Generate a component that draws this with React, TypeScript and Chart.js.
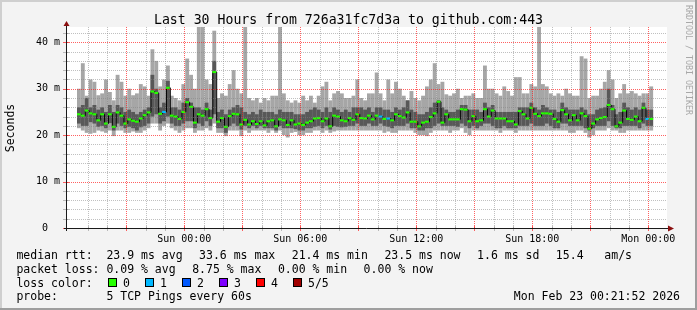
import React, { useEffect, useRef } from 'react';
import { Chart, registerables } from 'chart.js';

Chart.register(...registerables);

const MONO = '"DejaVu Sans Mono", monospace';

// Time axis: hours relative to Sun 00:00; graph covers Sat 18:27 .. Mon 00:27
const X_MIN = -5.55;
const X_MAX = 24.45;
const STEP_HOURS = 0.2; // 12 minute consolidation step
const Y_MAX = 43.3; // ms

const X_GRID_HOURS = [-5, -4, -3, -2, -1, 0, 1, 2, 3, 4, 5, 6, 7, 8, 9, 10, 11, 12, 13, 14, 15, 16, 17, 18, 19, 20, 21, 22, 23, 24];
const X_LABEL_HOURS = [0, 6, 12, 18, 24];
const X_TICK_LABELS = ['Sun 00:00', 'Sun 06:00', 'Sun 12:00', 'Sun 18:00', 'Mon 00:00'];
const Y_GRID_MS = [0, 2, 4, 6, 8, 10, 12, 14, 16, 18, 20, 22, 24, 26, 28, 30, 32, 34, 36, 38, 40, 42];
const Y_LABEL_MS = [0, 10, 20, 30, 40];
const Y_TICK_LABELS = ['0  ', '10 m', '20 m', '30 m', '40 m'];

// per 12-minute column, in milliseconds
const MAX_RTT = [
  30.0, 35.5, 28.5, 32.0, 31.5, 28.6, 29.0, 32.0, 29.3, 27.5, 33.0, 31.5, 28.5, 30.0, 28.6, 29.0, 31.0, 30.5, 28.5, 38.5, 36.0, 30.5, 32.0, 35.0, 28.5,
  28.0, 27.5, 31.0, 36.5, 33.0, 30.0, 43.3, 43.3, 32.0, 31.0, 42.5, 28.0, 29.0, 28.5, 31.0, 34.0, 30.0, 29.0, 43.3, 28.0, 27.5, 28.0, 27.0, 28.0, 27.5,
  28.5, 28.5, 43.3, 29.0, 27.5, 27.0, 27.5, 27.0, 28.5, 27.5, 28.5, 27.0, 28.5, 30.5, 31.5, 27.5, 29.0, 29.5, 29.0, 28.0, 28.0, 28.5, 32.0, 28.0, 27.5,
  29.0, 29.0, 33.5, 29.0, 27.5, 32.0, 29.0, 31.5, 30.0, 28.5, 27.5, 29.5, 28.0, 27.5, 28.5, 30.5, 32.0, 35.5, 31.0, 31.5, 28.8, 28.5, 29.0, 30.0, 28.0,
  28.5, 28.5, 29.0, 28.0, 28.0, 35.0, 30.0, 30.0, 29.0, 28.5, 30.5, 29.5, 28.5, 32.5, 32.5, 29.0, 29.0, 31.0, 30.5, 43.3, 31.0, 30.5, 29.0, 28.5, 29.0,
  28.5, 30.0, 29.0, 28.5, 28.5, 37.0, 36.5, 28.0, 28.5, 28.5, 30.0, 31.5, 34.0, 32.0, 28.0, 29.0, 31.0, 29.0, 29.5, 29.0, 28.5, 29.0, 29.0, 30.5,
];
const Q4_RTT = [
  26.0, 26.5, 28.0, 26.0, 26.5, 25.5, 26.0, 25.0, 26.5, 25.0, 26.5, 26.0, 25.0, 25.5, 25.0, 24.5, 25.0, 25.5, 26.0, 33.0, 30.0, 26.0, 27.0, 31.7, 26.0,
  26.0, 25.5, 27.0, 28.0, 27.0, 26.0, 26.0, 25.5, 27.0, 25.5, 36.0, 25.0, 25.5, 24.5, 25.5, 26.0, 26.5, 26.0, 25.0, 24.5, 25.0, 24.5, 25.5, 25.0, 25.0,
  25.0, 24.5, 25.5, 25.0, 25.0, 25.0, 24.5, 24.5, 24.5, 25.0, 25.5, 26.0, 25.5, 25.0, 26.0, 25.0, 26.0, 25.5, 25.0, 25.5, 25.0, 26.0, 26.0, 26.0, 25.5,
  26.0, 25.0, 26.0, 26.0, 25.5, 25.5, 25.0, 26.0, 25.5, 26.0, 27.5, 25.5, 25.0, 24.5, 24.5, 25.0, 26.0, 27.0, 27.5, 26.0, 25.5, 25.0, 25.0, 25.5, 26.5,
  26.5, 25.5, 25.5, 25.5, 25.0, 27.0, 26.0, 26.5, 25.0, 25.0, 25.0, 25.0, 25.0, 25.0, 26.0, 26.0, 26.0, 27.0, 26.0, 25.5, 26.5, 26.0, 25.5, 25.5, 25.0,
  27.0, 26.0, 25.5, 25.5, 25.5, 26.0, 25.5, 24.5, 24.5, 25.5, 25.8, 26.0, 30.0, 26.5, 24.5, 25.0, 27.0, 26.0, 25.5, 26.0, 25.5, 27.0, 25.5, 25.5,
];
const MEDIAN_RTT = [
  24.5, 24.2, 25.3, 24.7, 24.5, 23.2, 24.5, 22.5, 24.5, 21.8, 24.9, 24.2, 22.5, 23.4, 23.1, 22.9, 23.6, 24.3, 24.9, 29.4, 29.1, 24.6, 25.0, 30.2, 24.2,
  24.0, 23.5, 25.0, 27.1, 26.1, 22.7, 24.5, 24.2, 25.6, 23.7, 33.6, 22.9, 23.7, 21.8, 24.1, 24.6, 24.5, 22.3, 23.3, 22.3, 23.0, 22.4, 23.0, 22.1, 23.0,
  23.2, 21.9, 23.4, 23.2, 22.2, 23.2, 22.3, 22.5, 22.2, 22.7, 23.0, 23.6, 23.7, 23.0, 23.6, 21.9, 24.2, 24.0, 23.2, 23.0, 23.7, 23.3, 24.5, 23.7, 23.6,
  24.2, 23.4, 24.2, 24.0, 23.5, 23.6, 23.2, 24.5, 24.1, 23.8, 24.9, 22.9, 22.9, 21.9, 22.7, 22.9, 23.9, 24.7, 27.2, 22.7, 24.5, 23.4, 23.4, 23.4, 25.6,
  25.5, 23.0, 24.1, 23.0, 23.2, 25.6, 24.0, 25.3, 23.6, 23.6, 23.6, 23.0, 23.0, 22.3, 25.2, 24.5, 23.6, 25.9, 24.6, 24.1, 24.7, 24.7, 24.6, 23.5, 22.9,
  25.4, 24.5, 23.2, 24.3, 23.2, 24.7, 24.1, 21.4, 22.5, 23.4, 23.7, 23.9, 26.5, 25.6, 21.9, 22.7, 25.3, 23.5, 23.3, 24.0, 23.0, 25.9, 23.5, 23.5,
];
const Q2_RTT = [
  22.5, 22.0, 22.0, 22.8, 22.5, 21.8, 22.0, 21.5, 22.6, 21.0, 22.5, 22.0, 21.5, 21.8, 21.5, 21.0, 21.7, 22.0, 22.5, 24.0, 24.5, 22.5, 23.0, 24.0, 22.5,
  22.0, 22.0, 22.5, 23.0, 23.0, 21.5, 22.5, 22.0, 23.0, 22.0, 24.5, 21.5, 21.5, 20.5, 22.0, 22.5, 22.0, 21.2, 22.0, 21.5, 22.0, 21.5, 22.0, 21.5, 21.5,
  21.5, 21.0, 22.0, 21.5, 21.5, 21.5, 21.3, 21.0, 21.0, 21.5, 21.5, 21.8, 22.0, 21.5, 22.0, 21.2, 22.0, 21.8, 21.7, 21.8, 22.0, 22.0, 22.5, 22.0, 22.0,
  22.5, 22.0, 22.0, 22.5, 22.0, 21.8, 21.5, 22.0, 22.0, 22.0, 22.5, 21.5, 21.5, 21.0, 21.0, 21.5, 21.5, 22.0, 22.5, 22.0, 22.0, 22.0, 22.0, 21.8, 22.5,
  22.0, 21.5, 22.0, 21.5, 22.0, 22.5, 22.5, 22.0, 21.5, 21.5, 22.0, 21.5, 21.5, 21.5, 22.0, 22.0, 22.0, 22.5, 22.0, 22.0, 22.0, 22.5, 22.0, 21.5, 21.5,
  22.5, 22.5, 22.0, 22.0, 22.0, 22.0, 21.5, 21.0, 21.5, 22.0, 22.0, 22.0, 23.0, 22.0, 21.5, 21.5, 22.0, 22.0, 22.0, 22.0, 21.5, 22.5, 22.0, 22.0,
];
const MIN_RTT = [
  21.5, 21.0, 20.5, 20.3, 20.5, 21.0, 20.8, 20.5, 21.0, 19.8, 21.0, 21.0, 20.5, 20.5, 20.8, 20.5, 20.5, 21.0, 21.5, 22.5, 22.5, 21.0, 22.0, 22.5, 21.5,
  21.0, 20.5, 21.0, 21.5, 21.5, 20.5, 21.0, 21.0, 21.5, 21.0, 22.5, 20.5, 20.5, 19.8, 21.0, 21.0, 21.0, 19.8, 21.0, 20.5, 21.0, 21.0, 21.0, 21.0, 20.5,
  21.0, 20.5, 21.0, 20.0, 19.5, 20.5, 20.7, 20.0, 20.0, 20.5, 20.5, 21.0, 21.0, 20.5, 21.0, 20.5, 20.8, 21.0, 21.0, 21.0, 21.0, 21.0, 21.0, 21.0, 21.0,
  21.0, 21.0, 21.0, 21.0, 20.5, 20.8, 20.5, 20.5, 21.0, 21.0, 21.0, 21.0, 20.5, 20.0, 20.0, 19.8, 20.5, 21.0, 21.0, 21.0, 21.0, 20.5, 21.0, 21.0, 21.5,
  20.5, 20.0, 21.0, 21.0, 21.0, 21.0, 21.0, 21.0, 21.0, 20.5, 21.0, 21.0, 21.0, 20.5, 21.0, 21.0, 21.0, 21.0, 21.0, 21.0, 21.0, 21.0, 21.0, 21.0, 21.0,
  21.0, 21.0, 20.5, 20.5, 21.0, 21.0, 20.5, 19.5, 20.0, 21.0, 21.0, 21.0, 21.5, 21.0, 21.0, 20.5, 20.5, 21.0, 21.0, 21.0, 21.0, 21.0, 21.0, 21.0,
];
// columns where 1 of 5 pings was lost
const LOSS_ONE_COLUMNS = [22, 78, 80, 147];

const LOSS_LABELS = ['0', '1', '2', '3', '4', '5/5'];
const LOSS_COLORS = ['#26ff00', '#00b8ff', '#0059ff', '#7e00ff', '#ff0000', '#a00000'];

const LEGEND_RTT = ['median rtt:  23.9 ms avg', '33.6 ms max', '21.4 ms min', '23.5 ms now', '1.6 ms sd', '15.4   am/s'];
const LEGEND_LOSS = ['packet loss: 0.09 % avg', '8.75 % max', '0.00 % min', '0.00 % now'];
const LEGEND_PROBE = 'probe:       5 TCP Pings every 60s';
const STAMP = 'Mon Feb 23 00:21:52 2026';
const TITLE = 'Last 30 Hours from 726a31fc7d3a to github.com:443';

const MINOR = 'rgba(130,130,130,0.5)';
const MAJOR = 'rgba(255,30,30,0.7)';

const colTime = (i: number) => X_MIN + STEP_HOURS * (i + 0.5);
const LOSS = MEDIAN_RTT.map((_, i) => (LOSS_ONE_COLUMNS.includes(i) ? 1 : 0));

const decor = {
  id: 'decor',
  beforeDraw(chart: any) {
    const { ctx, width, height, chartArea: a } = chart;
    ctx.save();
    ctx.fillStyle = '#f3f3f3';
    ctx.fillRect(0, 0, width, height);
    ctx.fillStyle = '#cfcfcf';
    ctx.fillRect(0, 0, width, 2);
    ctx.fillRect(0, 0, 2, height);
    ctx.fillStyle = '#9e9e9e';
    ctx.fillRect(0, height - 2, width, 2);
    ctx.fillRect(width - 2, 0, 2, height);
    ctx.fillStyle = '#ffffff';
    ctx.fillRect(a.left, a.top, a.right - a.left, a.bottom - a.top);
    ctx.restore();
  },
  beforeDatasetDraw(chart: any, args: any) {
    if (args.meta.type === 'line') {
      chart.ctx.save();
      chart.ctx.translate(0.5, 0);
    }
  },
  afterDatasetDraw(chart: any, args: any) {
    if (args.meta.type === 'line') chart.ctx.restore();
  },
  afterDatasetsDraw(chart: any) {
    // rrdtool style grid, drawn over the graph
    const { ctx, chartArea: a, scales } = chart;
    const xs = scales.x;
    const ys = scales.y;
    ctx.save();
    ctx.lineWidth = 1;
    X_GRID_HOURS.forEach((v) => {
      const px = Math.round(xs.getPixelForValue(v)) + 0.5;
      ctx.strokeStyle = v % 3 === 0 ? MAJOR : MINOR;
      ctx.setLineDash([1, 1]);
      ctx.beginPath();
      ctx.moveTo(px, a.top);
      ctx.lineTo(px, a.bottom);
      ctx.stroke();
      ctx.setLineDash([]);
      ctx.beginPath();
      ctx.moveTo(px, a.bottom - 2);
      ctx.lineTo(px, a.bottom + 3);
      ctx.stroke();
    });
    Y_GRID_MS.forEach((v) => {
      const py = Math.round(ys.getPixelForValue(v)) + 0.5;
      ctx.strokeStyle = v % 10 === 0 ? MAJOR : MINOR;
      ctx.setLineDash([1, 1]);
      ctx.beginPath();
      ctx.moveTo(a.left, py);
      ctx.lineTo(a.right, py);
      ctx.stroke();
      ctx.setLineDash([]);
      ctx.beginPath();
      ctx.moveTo(a.left - 4, py);
      ctx.lineTo(a.left + 2, py);
      ctx.stroke();
    });
    ctx.restore();
  },
  afterDraw(chart: any) {
    const { ctx, width, chartArea: a } = chart;
    ctx.save();
    // axes
    ctx.strokeStyle = '#1a1a1a';
    ctx.lineWidth = 1;
    ctx.beginPath();
    ctx.moveTo(a.left - 3, a.bottom + 0.5);
    ctx.lineTo(a.right + 2, a.bottom + 0.5);
    ctx.moveTo(a.left - 0.5, a.bottom + 3);
    ctx.lineTo(a.left - 0.5, a.top - 2);
    ctx.stroke();
    ctx.fillStyle = '#8b1010';
    ctx.beginPath();
    ctx.moveTo(a.right + 7, a.bottom + 0.5);
    ctx.lineTo(a.right + 1, a.bottom - 2.5);
    ctx.lineTo(a.right + 1, a.bottom + 3.5);
    ctx.closePath();
    ctx.fill();
    ctx.beginPath();
    ctx.moveTo(a.left - 0.5, a.top - 6);
    ctx.lineTo(a.left - 3.5, a.top - 1);
    ctx.lineTo(a.left + 2.5, a.top - 1);
    ctx.closePath();
    ctx.fill();

    // title
    ctx.fillStyle = '#000';
    ctx.font = `13.2px ${MONO}`;
    ctx.textAlign = 'center';
    ctx.textBaseline = 'alphabetic';
    ctx.fillText(TITLE, width / 2, 23.5);

    // y axis title
    ctx.save();
    ctx.translate(11, 128);
    ctx.rotate(-Math.PI / 2);
    ctx.font = `11.5px ${MONO}`;
    ctx.textBaseline = 'middle';
    ctx.textAlign = 'center';
    ctx.fillText('Seconds', 0, 0);
    ctx.restore();

    // watermark
    ctx.save();
    ctx.translate(688.5, 5);
    ctx.rotate(Math.PI / 2);
    ctx.font = `8.3px ${MONO}`;
    ctx.fillStyle = '#a8a8a8';
    ctx.textAlign = 'left';
    ctx.textBaseline = 'middle';
    ctx.fillText('RRDTOOL / TOBI OETIKER', 0, 0);
    ctx.restore();

    // legend
    ctx.font = `11.5px ${MONO}`;
    ctx.textAlign = 'left';
    ctx.fillStyle = '#000';
    const gap = 16.5;
    const row = (items: string[], y: number) => {
      let x = 16.4;
      for (const s of items) {
        ctx.fillText(s, x, y);
        x += ctx.measureText(s).width + gap;
      }
    };
    row(LEGEND_RTT, 258.5);
    row(LEGEND_LOSS, 272.5);
    ctx.fillText('loss color:', 16.4, 286.5);
    LOSS_LABELS.forEach((lab, k) => {
      const bx = 108 + 37 * k;
      ctx.fillStyle = LOSS_COLORS[k];
      ctx.fillRect(bx, 278, 9, 9);
      ctx.strokeStyle = '#000';
      ctx.strokeRect(bx + 0.5, 278.5, 8, 8);
      ctx.fillStyle = '#000';
      ctx.fillText(lab, 123 + 37 * k, 286.5);
    });
    ctx.fillText(LEGEND_PROBE, 16.4, 300.2);
    ctx.textAlign = 'right';
    ctx.fillText(STAMP, 680, 300.2);
    ctx.restore();
  },
};

export default function App() {
  const ref = useRef<HTMLCanvasElement>(null);
  useEffect(() => {
    document.body.style.margin = '0';
    const canvas = ref.current!;
    const barCommon = { grouped: false, barPercentage: 1, categoryPercentage: 1, borderWidth: 0, inflateAmount: 0 };
    const chart = new Chart(canvas, {
      type: 'bar',
      data: {
        datasets: [
          {
            ...barCommon,
            type: 'bar',
            label: 'median',
            data: MEDIAN_RTT.map((m, i) => ({ x: colTime(i), y: [m - 0.23, m + 0.23] })),
            backgroundColor: LOSS.map((l) => LOSS_COLORS[l]),
            order: 0,
          } as any,
          {
            type: 'line',
            label: 'median line',
            data: MEDIAN_RTT.map((m, i) => ({ x: colTime(i), y: m })),
            borderColor: '#000',
            borderWidth: 1,
            stepped: 'middle',
            pointRadius: 0,
            fill: false,
            order: 1,
          } as any,
          {
            ...barCommon,
            type: 'bar',
            label: 'smoke inner',
            data: Q2_RTT.map((lo, i) => ({ x: colTime(i), y: [lo, Q4_RTT[i]] })),
            backgroundColor: '#585858',
            order: 2,
          } as any,
          {
            ...barCommon,
            type: 'bar',
            label: 'smoke outer',
            data: MIN_RTT.map((lo, i) => ({ x: colTime(i), y: [lo, MAX_RTT[i]] })),
            backgroundColor: '#a6a6a6',
            order: 3,
          } as any,
        ],
      },
      options: {
        responsive: false,
        devicePixelRatio: 1,
        animation: false,
        events: [],
        layout: { padding: { top: 27, right: 30, bottom: 0, left: 0 } },
        plugins: { legend: { display: false }, tooltip: { enabled: false }, title: { display: false } },
        scales: {
          x: {
            type: 'linear',
            min: X_MIN,
            max: X_MAX,
            afterFit: (s: any) => { s.height = 82; },
            afterBuildTicks: (s: any) => { s.ticks = X_GRID_HOURS.map((v) => ({ value: v })); },
            grid: { display: false, drawTicks: false },
            border: { display: false },
            ticks: {
              autoSkip: false,
              maxRotation: 0,
              minRotation: 0,
              padding: 5,
              color: '#000',
              font: { family: MONO, size: 10 },
              callback: (v: any) => {
                const k = X_LABEL_HOURS.indexOf(Number(v));
                return k >= 0 ? X_TICK_LABELS[k] : '';
              },
            },
          },
          y: {
            type: 'linear',
            min: 0,
            max: Y_MAX,
            stacked: false,
            afterFit: (s: any) => { s.width = 67; },
            afterBuildTicks: (s: any) => { s.ticks = Y_GRID_MS.map((v) => ({ value: v })); },
            grid: { display: false, drawTicks: false },
            border: { display: false },
            ticks: {
              autoSkip: false,
              padding: 7,
              color: '#000',
              font: { family: MONO, size: 10 },
              callback: (v: any) => {
                const k = Y_LABEL_MS.indexOf(Number(v));
                return k >= 0 ? Y_TICK_LABELS[k] : '';
              },
            },
          },
        },
      } as any,
      plugins: [decor],
    });
    return () => chart.destroy();
  }, []);
  return <canvas ref={ref} width={697} height={310} style={{ display: 'block', width: 697, height: 310 }} />;
}
